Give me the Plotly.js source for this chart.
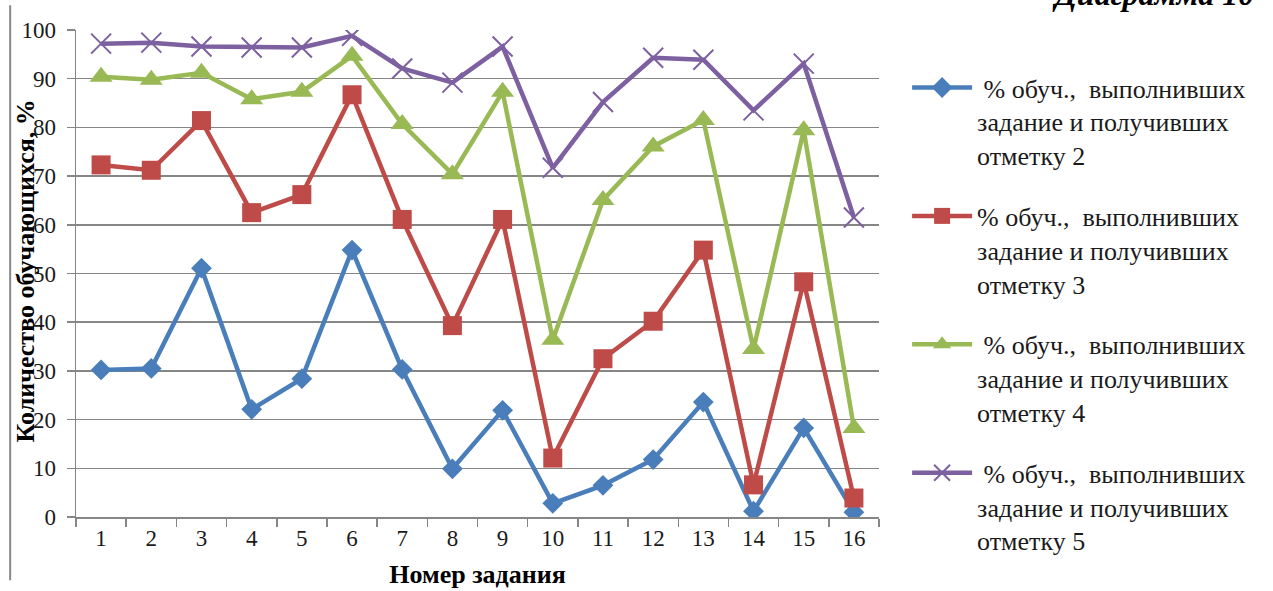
<!DOCTYPE html>
<html>
<head>
<meta charset="utf-8">
<script src="https://cdn.plot.ly/plotly-3.0.1.min.js"></script>
<style>html,body{margin:0;padding:0;background:#fff;}#chart{width:1273px;height:591px;}</style>
</head>
<body>
<div id="chart"></div>
<script>
var tasks = ['1','2','3','4','5','6','7','8','9','10','11','12','13','14','15','16'];
var mark2 = [30.2, 30.5, 51.1, 22.1, 28.4, 54.8, 30.3, 9.9, 21.9, 2.8, 6.5, 11.8, 23.6, 1.2, 18.3, 1.0];
var mark3 = [72.3, 71.2, 81.4, 62.5, 66.2, 86.7, 61.1, 39.3, 61.1, 12.1, 32.5, 40.2, 54.8, 6.6, 48.3, 3.9];
var mark4 = [90.4, 89.8, 91.2, 85.8, 87.3, 94.7, 80.7, 70.4, 87.3, 36.4, 65.1, 76.1, 81.5, 34.5, 79.4, 18.3];
var mark5 = [97.2, 97.4, 96.6, 96.4, 96.4, 98.8, 92.1, 89.2, 96.6, 71.7, 85.2, 94.3, 93.9, 83.5, 93.1, 61.5];
var names = [
  '\u00a0% обуч.,\u00a0 выполнивших<br>задание и получивших<br>отметку 2',
  '% обуч.,\u00a0 выполнивших<br>задание и получивших<br>отметку 3',
  '\u00a0% обуч.,\u00a0 выполнивших<br>задание и получивших<br>отметку 4',
  '\u00a0% обуч.,\u00a0 выполнивших<br>задание и получивших<br>отметку 5'
];
var xTitle = 'Номер задания';
var yTitle = 'Количество обучающихся, %';
var diagramTitle = 'Диаграмма 10';

var serif = '"Liberation Serif", "Times New Roman", serif';
var traces = [
  {x: tasks, y: mark2, name: names[0], legendgroup: 'g2', type: 'scatter', mode: 'lines+markers',
   line: {color: '#4A7EBB', width: 4.5}, marker: {symbol: 'diamond', size: 16, color: '#4A7EBB'}},
  {x: tasks, y: mark3, name: names[1], legendgroup: 'g3', type: 'scatter', mode: 'lines+markers',
   line: {color: '#BE4B48', width: 4.5}, marker: {symbol: 'square', size: 19, color: '#BE4B48'}},
  {x: tasks, y: mark4, name: names[2], legendgroup: 'g4', type: 'scatter', mode: 'lines+markers',
   line: {color: '#98B954', width: 4.5}, marker: {symbol: 'triangle-up', size: 20, color: '#98B954'}},
  {x: tasks, y: mark5, name: names[3], legendgroup: 'g5', type: 'scatter', mode: 'lines+markers',
   line: {color: '#7D60A0', width: 4.5}, marker: {symbol: 'x-thin', size: 20, color: '#7D60A0', line: {color: '#7D60A0', width: 2}}}
];

var layout = {
  width: 1273, height: 591,
  margin: {l: 76, r: 394, t: 30, b: 74, pad: 0},
  paper_bgcolor: '#fff', plot_bgcolor: '#fff',
  font: {family: serif, color: '#1a1a1a', size: 23},
  showlegend: true,
  legend: {x: 1.035, xanchor: 'left', y: 0.93, yanchor: 'top', valign: 'top', maxheight: 600,
           font: {family: serif, size: 26, color: '#1a1a1a'}, itemwidth: 60,
           tracegroupgap: 24, bgcolor: 'rgba(0,0,0,0)'},
  xaxis: {type: 'category', range: [-0.5, 15.5], tickson: 'boundaries', ticks: 'outside', ticklen: 8, tickcolor: '#868686', tickwidth: 1.5,
          showline: true, linecolor: '#868686', linewidth: 1.5, showgrid: false, zeroline: false,
          tickfont: {family: serif, size: 23, color: '#1a1a1a'},
          title: {text: '<b>' + xTitle + '</b>', font: {family: serif, size: 26, color: '#000'}, standoff: 14},
          fixedrange: true},
  yaxis: {range: [0, 100], dtick: 10, tick0: 0, ticks: 'outside', ticklen: 8, tickcolor: '#868686', tickwidth: 1.5,
          showline: true, linecolor: '#868686', linewidth: 1.5, showgrid: true, gridcolor: '#868686', gridwidth: 1.5,
          zeroline: false, tickfont: {family: serif, size: 23, color: '#1a1a1a'}, ticklabelstandoff: 6,
          fixedrange: true},
  annotations: [
    {text: '<b>' + yTitle + '</b>', xref: 'paper', yref: 'paper', x: -0.063, y: 0.505, textangle: -90,
     showarrow: false, xanchor: 'center', yanchor: 'middle', font: {family: serif, size: 26, color: '#000'}},
    {text: '<b><i>' + diagramTitle + '</i></b>', xref: 'paper', yref: 'paper', x: 1.469, y: 1, xanchor: 'right', yanchor: 'bottom',
     yshift: 16, showarrow: false, font: {family: serif, size: 32, color: '#000'}}
  ],
  shapes: [
    {type: 'line', xref: 'paper', yref: 'paper', x0: -0.082, x1: -0.082, y0: 1.051, y1: -0.13,
     line: {color: '#888', width: 2}}
  ]
};
Plotly.newPlot('chart', traces, layout, {displayModeBar: false, staticPlot: true});
</script>
</body>
</html>
